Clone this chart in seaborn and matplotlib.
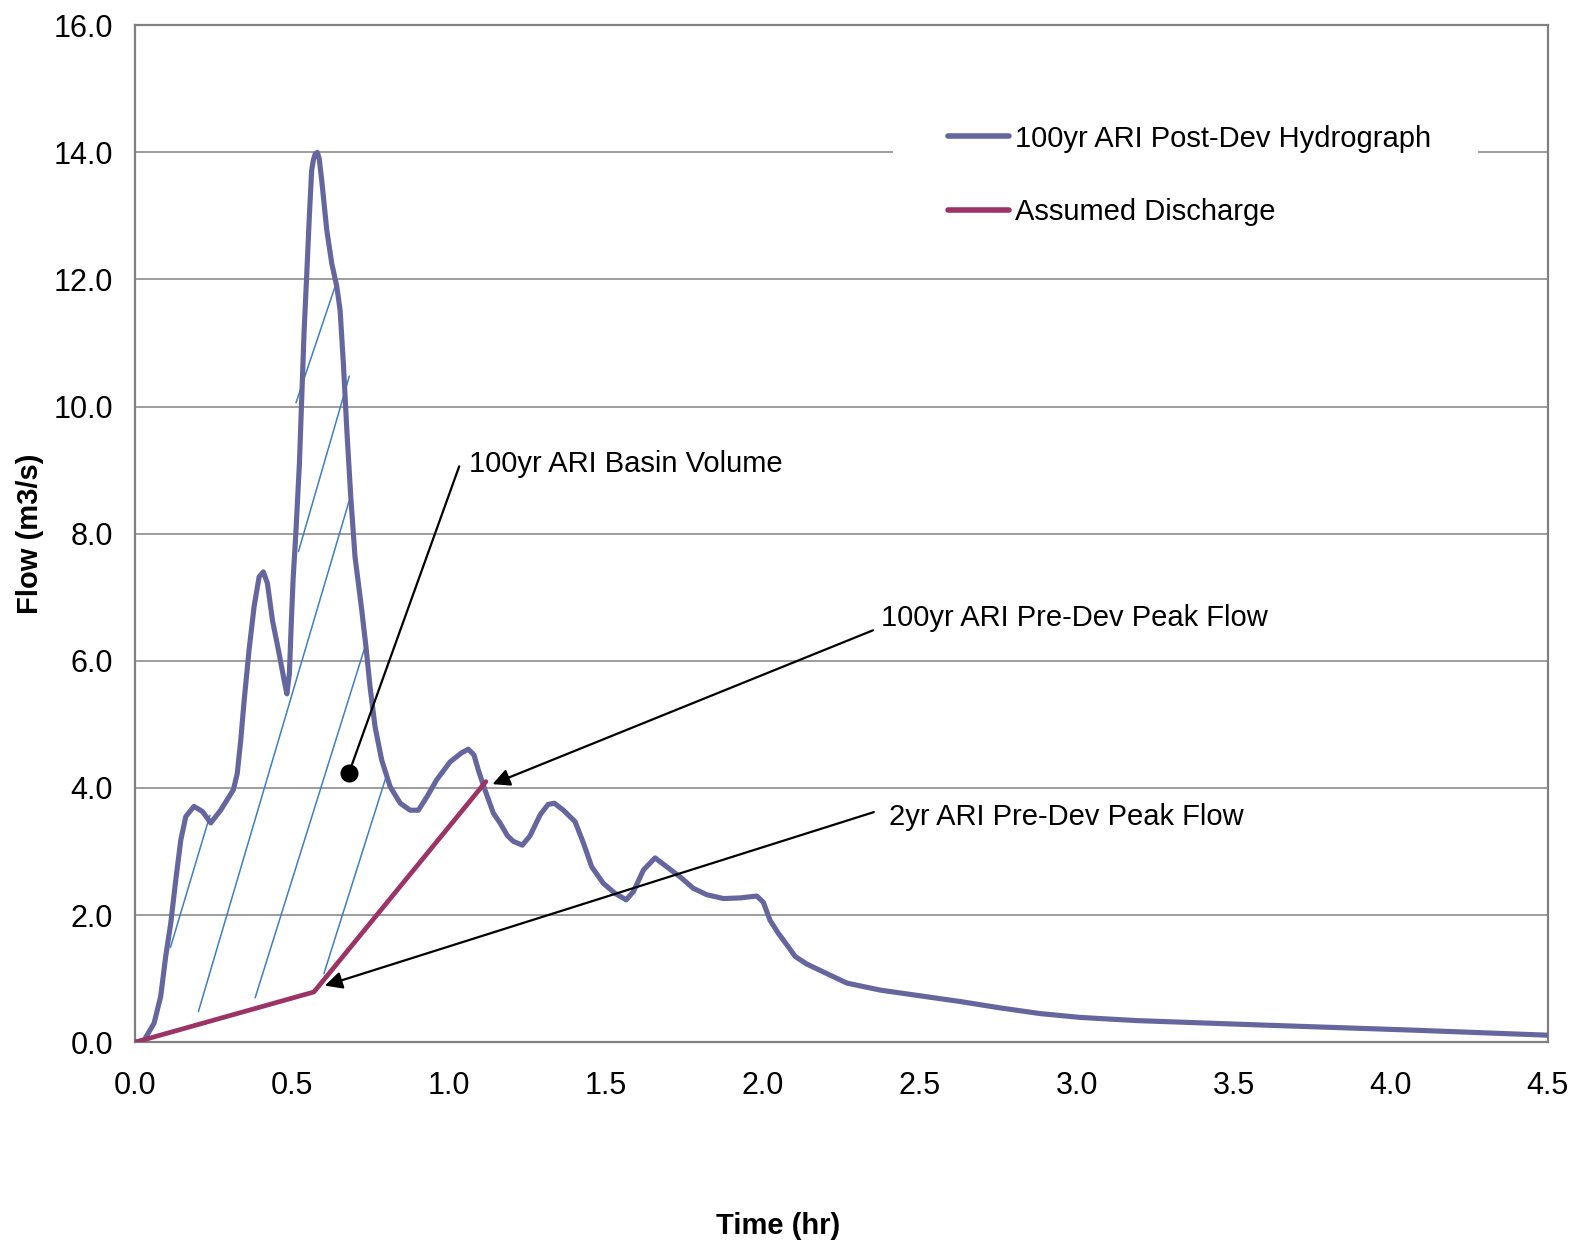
import matplotlib
matplotlib.use("Agg")
import matplotlib.pyplot as plt
import seaborn as sns
import pandas as pd
from matplotlib.patches import Rectangle
from matplotlib.ticker import MultipleLocator, FormatStrFormatter

# ---------------- data ----------------
time_hr = [0.000, 0.028, 0.060, 0.081, 0.097, 0.113, 0.129, 0.145, 0.161, 0.187,
           0.214, 0.2405, 0.272, 0.3125, 0.325, 0.336, 0.347, 0.3625, 0.3785,
           0.3945, 0.408, 0.421, 0.437, 0.458, 0.474, 0.483, 0.491, 0.497,
           0.503, 0.5115, 0.523, 0.5305, 0.538, 0.5465, 0.555, 0.562, 0.5675,
           0.573, 0.580, 0.586, 0.594, 0.610, 0.626, 0.642, 0.6525, 0.663,
           0.674, 0.6865, 0.700, 0.7215, 0.735, 0.748, 0.764, 0.785, 0.812,
           0.844, 0.8755, 0.902, 0.929, 0.9605, 1.003, 1.040, 1.061, 1.079,
           1.093, 1.114, 1.141, 1.162, 1.1855, 1.2045, 1.233, 1.258, 1.290,
           1.315, 1.335, 1.364, 1.401, 1.428, 1.454, 1.491, 1.529, 1.564,
           1.587, 1.619, 1.656, 1.693, 1.736, 1.778, 1.821, 1.874, 1.927,
           1.980, 2.001, 2.022, 2.049, 2.076, 2.102, 2.139, 2.203, 2.267,
           2.373, 2.500, 2.628, 2.755, 2.883, 3.010, 3.190, 3.590, 4.070, 4.500]
flow_post = [0.00, 0.03, 0.30, 0.72, 1.35, 1.87, 2.55, 3.18, 3.55, 3.71,
             3.63, 3.45, 3.65, 3.97, 4.23, 4.75, 5.38, 6.17, 6.85,
             7.32, 7.40, 7.22, 6.64, 6.12, 5.70, 5.48, 5.80, 6.59,
             7.30, 8.00, 9.11, 10.16, 11.20, 12.10, 13.04, 13.72, 13.88,
             13.97, 14.00, 13.90, 13.56, 12.78, 12.25, 11.89, 11.52, 10.68,
             9.63, 8.58, 7.64, 6.80, 6.22, 5.59, 4.96, 4.44, 4.02,
             3.76, 3.65, 3.65, 3.86, 4.13, 4.41, 4.555, 4.61, 4.52,
             4.28, 3.97, 3.60, 3.45, 3.25, 3.16, 3.10, 3.25, 3.58,
             3.74, 3.76, 3.65, 3.47, 3.13, 2.76, 2.50, 2.34, 2.24,
             2.37, 2.71, 2.90, 2.76, 2.60, 2.42, 2.32, 2.26, 2.27,
             2.30, 2.20, 1.92, 1.71, 1.53, 1.35, 1.23, 1.08, 0.93,
             0.82, 0.73, 0.64, 0.54, 0.45, 0.39, 0.34, 0.27, 0.19, 0.11]

discharge_time = [0.000, 0.569, 1.117]
discharge_flow = [0.00, 0.79, 4.10]

# basin volume hatch lines (start / end points)
hatch_t0 = [0.112, 0.201, 0.382, 0.601, 0.512, 0.520]
hatch_q0 = [1.49, 0.48, 0.70, 1.08, 10.06, 7.72]
hatch_t1 = [0.238, 0.681, 0.730, 0.800, 0.642, 0.682]
hatch_q1 = [3.57, 8.51, 6.19, 4.19, 11.97, 10.48]

series_labels = ["100yr ARI Post-Dev Hydrograph", "Assumed Discharge"]
notes = ["100yr ARI Basin Volume", "100yr ARI Pre-Dev Peak Flow",
         "2yr ARI Pre-Dev Peak Flow"]
note_text_t = [1.064, 2.375, 2.40]
note_text_q = [9.10, 6.67, 3.54]
note_start_t = [1.032, 2.35, 2.353]
note_start_q = [9.06, 6.48, 3.62]
note_end_t = [0.681, 1.138, 0.604]
note_end_q = [4.24, 4.06, 0.89]

# ---------------- style ----------------
sns.set_theme(style="white")
plt.rcParams['font.family'] = ['Liberation Sans', 'DejaVu Sans']
plt.rcParams['text.color'] = 'black'
plt.rcParams['axes.labelcolor'] = 'black'

c_post = "#66669E"
c_dis = "#9B3366"
c_hatch = "#3D7FC2"
c_grid = "#8C8C8C"

fig = plt.figure(figsize=(15.82, 12.48), dpi=100)
ax = fig.add_axes([0.0855, 0.1649, 0.8929, 0.8149])

df_post = pd.DataFrame({"t": time_hr, "q": flow_post})
df_dis = pd.DataFrame({"t": discharge_time, "q": discharge_flow})

for t0, q0, t1, q1 in zip(hatch_t0, hatch_q0, hatch_t1, hatch_q1):
    ax.plot([t0, t1], [q0, q1], color=c_hatch, lw=1.1, zorder=2)

sns.lineplot(data=df_post, x="t", y="q", ax=ax, color=c_post, lw=3.7,
             sort=False, estimator=None, label=series_labels[0], zorder=4,
             solid_joinstyle="round", solid_capstyle="round")
sns.lineplot(data=df_dis, x="t", y="q", ax=ax, color=c_dis, lw=3.4,
             sort=False, estimator=None, label=series_labels[1], zorder=5,
             solid_joinstyle="round")

ax.set_xlim(0, 4.5)
ax.set_ylim(0, 16)
ax.xaxis.set_major_locator(MultipleLocator(0.5))
ax.xaxis.set_minor_locator(MultipleLocator(0.1))
ax.yaxis.set_major_locator(MultipleLocator(2))
ax.yaxis.set_minor_locator(MultipleLocator(0.5))
ax.xaxis.set_major_formatter(FormatStrFormatter("%.1f"))
ax.yaxis.set_major_formatter(FormatStrFormatter("%.1f"))
ax.grid(axis="y", which="major", color=c_grid, lw=1.2, zorder=0)
ax.grid(axis="x", visible=False)
ax.set_axisbelow(True)

for s in ax.spines.values():
    s.set_color("#808080")
    s.set_linewidth(1.6)
    s.set_visible(True)

ax.tick_params(axis="both", which="both", direction="in", colors="#808080",
               labelcolor="black", labelsize=22, width=1.3)
ax.tick_params(axis="both", which="major", length=8)
ax.tick_params(axis="both", which="minor", length=6)
ax.tick_params(axis="x", which="major", pad=21)
ax.tick_params(axis="y", which="major", pad=16)
ax.tick_params(top=False, right=False, which="both")

ax.set_xlabel("Time (hr)", fontsize=21, fontweight="bold", color="black")
ax.set_ylabel("Flow (m3/s)", fontsize=21, fontweight="bold", color="black")
ax.xaxis.set_label_coords(0.455, -0.1806)
ax.xaxis.label.set_va("center")
ax.yaxis.set_label_coords(-0.0745, 0.5)
ax.yaxis.label.set_va("center")

# annotations
for i, txt in enumerate(notes):
    ax.text(note_text_t[i], note_text_q[i], txt, fontsize=21, ha="left",
            va="center", color="black", zorder=6)
    if i == 0:
        ax.plot([note_start_t[i], note_end_t[i]], [note_start_q[i], note_end_q[i]],
                color="black", lw=1.6, zorder=6)
        ax.plot([note_end_t[i]], [note_end_q[i]], "o", color="black", ms=12, zorder=6)
    else:
        ax.annotate("", xy=(note_end_t[i], note_end_q[i]),
                    xytext=(note_start_t[i], note_start_q[i]),
                    arrowprops=dict(arrowstyle="-|>", color="black", lw=1.6,
                                    mutation_scale=26, shrinkA=0, shrinkB=0),
                    zorder=6)

# white background behind legend
ax.add_patch(Rectangle((0.5364, 0.80), 0.4143, 0.14, transform=ax.transAxes,
                       facecolor="white", edgecolor="none", zorder=1))

leg = ax.legend(loc="center left", bbox_to_anchor=(0.5757, 0.8525), fontsize=21,
                frameon=False, handlelength=2.07, handletextpad=0.2,
                labelspacing=1.55, borderpad=0, borderaxespad=0)
for h in leg.get_lines():
    h.set_linewidth(4)
    h.set_solid_capstyle("round")
for t in leg.get_texts():
    t.set_color("black")

fig.savefig("out.png", dpi=100)
